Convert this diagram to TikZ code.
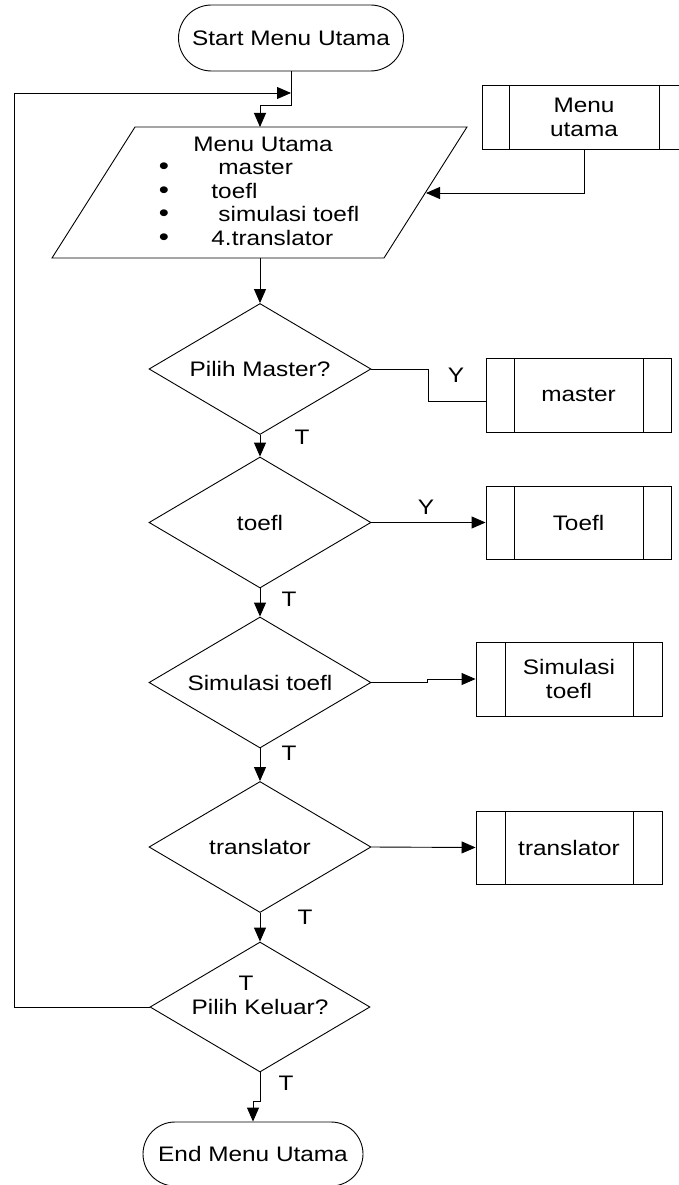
\documentclass[tikz,border=0pt]{standalone}
\usepackage{fontspec}
\setmainfont[FakeStretch=1.16]{Liberation Sans}
\usetikzlibrary{shapes.geometric,shapes.misc,arrows.meta}
\tikzset{
  term/.style={draw, rounded rectangle, minimum width=#1, minimum height=66pt, inner sep=0pt},
  decision/.style={draw, diamond, aspect=1.7, minimum width=222pt, minimum height=131pt, inner sep=0pt},
  subproc/.style args={#1/#2/#3}{draw, minimum width=#1, minimum height=#2, inner sep=0pt, align=center,
    path picture={
      \draw ([xshift=#3]path picture bounding box.north west) -- ([xshift=#3]path picture bounding box.south west);
      \draw ([xshift=-#3]path picture bounding box.north east) -- ([xshift=-#3]path picture bounding box.south east);}},
  arr/.style={-{Triangle[length=14pt,width=12pt]}},
  lab/.style={inner sep=0pt},
  itemtxt/.style={inner sep=0pt, anchor=base west},
}
\begin{document}
\begin{tikzpicture}[x=1pt, y=-1pt, line width=0.9pt,
  font=\fontsize{21pt}{24pt}\selectfont]
\useasboundingbox (0,0) rectangle (679,1185);

% start
\node[term=225pt] (start) at (291,38) {Start Menu Utama};

% parallelogram (input/output)
\draw (135,127) -- (467,127) -- (384,258) -- (52,258) -- cycle;
\coordinate (parT) at (260,127);
\coordinate (parB) at (260,258);
\coordinate (parR) at (426,193);
\node[lab, anchor=base] (mtitle) at (263,151.5) {Menu Utama};
\node[lab, anchor=base, font=\fontsize{25pt}{24pt}\selectfont] (b1) at (164,175) {•};
\node[lab, anchor=base, font=\fontsize{25pt}{24pt}\selectfont] (b2) at (164,198.5) {•};
\node[lab, anchor=base, font=\fontsize{25pt}{24pt}\selectfont] (b3) at (164,222) {•};
\node[lab, anchor=base, font=\fontsize{25pt}{24pt}\selectfont] (b4) at (164,245.5) {•};
\node[itemtxt] (i1) at (218,175) {master};
\node[itemtxt] (i2) at (211,198.5) {toefl};
\node[itemtxt] (i3) at (218,222) {simulasi toefl};
\node[itemtxt] (i4) at (211,245.5) {4.translator};

% menu utama subprocess
\node[subproc=204pt/64pt/27pt] (mbox) at (584,117) {Menu\\utama};

% decisions
\node[decision] (d1) at (260,369) {Pilih Master?};
\node[decision] (d2) at (260,522.5) {toefl};
\node[decision] (d3) at (260,682.5) {Simulasi toefl};
\node[decision] (d4) at (260,847) {translator};
\node[decision, minimum width=220pt, minimum height=130pt] (d5) at (260,1007) {Pilih Keluar?};
\node[lab] (tin) at (246,983) {T};

% subprocesses
\node[subproc=185pt/74pt/28pt] (master) at (578.5,395) {master};
\node[subproc=185pt/73pt/28pt] (toefl) at (578.5,522.5) {Toefl};
\node[subproc=186pt/74pt/29pt] (sim) at (569,679) {Simulasi\\toefl};
\node[subproc=186pt/73pt/29pt] (trans) at (569,847.5) {translator};

% end
\node[term=220pt, minimum height=64pt] (end) at (253,1154) {End Menu Utama};

% connectors
\coordinate (j1) at (291,105);
\draw[arr] (start.south) -- (j1) -| (parT);
\coordinate (loopL) at (14,1007);
\coordinate (loopT) at (291,93);
\draw[arr] (d5.west) -- (loopL) |- (loopT);
\draw[arr] (mbox.south) |- (parR);
\draw[arr] (parB) -- (d1.north);
\draw[arr] (d1.south) -- (d2.north);
\draw[arr] (d2.south) -- (d3.north);
\draw[arr] (d3.south) -- (d4.north);
\draw[arr] (d4.south) -- (d5.north);
\coordinate (m1) at (428,401);
\draw (d1.east) -| (m1) -- (master.west |- m1);
\draw[arr] (d2.east) -- (toefl.west);
\coordinate (s1) at (427,682.5);
\coordinate (s2) at (427,679);
\draw[arr] (d3.east) -- (s1) -- (s2) -- (sim.west);
\draw[arr] (d4.east) -- (trans.west);
\coordinate (e1) at (260,1101);
\coordinate (e2) at (253,1101);
\draw[arr] (d5.south) -- (e1) -- (e2) -- (end.north);

% labels
\node[lab] (ly1) at (456,375) {Y};
\node[lab] (ly2) at (426,507) {Y};
\node[lab] (lt1) at (302,437) {T};
\node[lab] (lt2) at (289,599) {T};
\node[lab] (lt3) at (289,753) {T};
\node[lab] (lt4) at (305,917) {T};
\node[lab] (lt5) at (286,1083) {T};
\end{tikzpicture}
\end{document}
